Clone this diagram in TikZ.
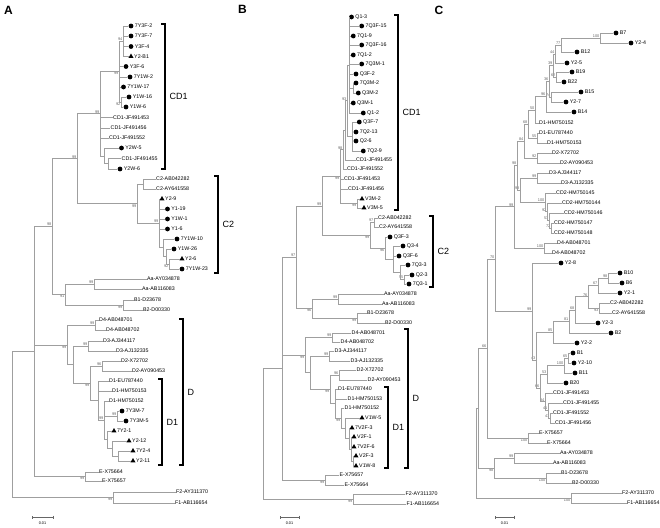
\documentclass[tikz,border=0pt]{standalone}
\usepackage{fontspec}
\setmainfont{Liberation Sans}
\usetikzlibrary{arrows.meta,positioning,calc,shapes.geometric}

% leaves, clades, bootstrap values, clade brackets
\newcommand\refseq[4]{\node[seq] (#1) at (#2,#3) {#4};}
\newcommand\sample[5]{\node[#4] (#1) at (#2,#3) {};\node[seq,right=0.6pt of #1] (#1-t) {#5};}
\newcommand\clade[4]{\path ($(#3)!.5!(#4)$) coordinate (#1-m);\coordinate (#1) at (#2,0 |- #1-m);}
\newcommand\kids[2]{\foreach \kid in {#2}{\draw[br] (#1) |- (\kid);}}
\newcommand\boot[3][bs]{\node[#1] (#2-b) at (#2) {#3};}
\newcommand\bracket[5]{\draw[brk] (#2-4,#3) -- (#2,#3) -- (#2,#4) -- (#2-4,#4);
  \node[clab] (#1) at (#2+4.5,{(#3+#4)/2}) {#5};}

\begin{document}
\begin{tikzpicture}[x=1pt,y=-1pt,
br/.style={draw=gray!75,line width=0.6pt},
seq/.style={anchor=west,inner sep=0.5pt,font=\fontsize{5.3}{6}\selectfont,text height=3.8pt,text depth=0pt},
cir/.style={circle,fill=black,inner sep=0pt,minimum size=4.8pt},
tri/.style={regular polygon,regular polygon sides=3,fill=black,inner sep=0pt,minimum size=5.9pt},
bs/.style={anchor=south east,inner sep=0.4pt,font=\fontsize{3.9}{4}\selectfont,text=gray!80!black},
bsb/.style={bs,anchor=north east},
brk/.style={draw=black,line width=1.1pt},
clab/.style={anchor=west,inner sep=0pt,font=\fontsize{9}{10}\selectfont},
panel/.style={font=\bfseries\fontsize{12}{12}\selectfont,inner sep=0pt},
sbar/.style={draw=gray!80!black,line width=0.5pt,{Bar[width=3pt]}-{Bar[width=3pt]}},
sblab/.style={font=\fontsize{3.8}{4}\selectfont,inner sep=0pt}]
\useasboundingbox (0,0) rectangle (660,527);

% ---------------- A
\node[panel] (pA) at (8.5,10.5) {A};
\sample{a01}{131}{26}{cir}{7Y3F-2}
\sample{a02}{131}{36}{cir}{7Y3F-7}
\sample{a03}{131}{46.5}{cir}{Y3F-4}
\sample{a04}{131}{56.5}{tri}{Y2-B1}
\sample{a05}{126}{66.5}{cir}{Y3F-6}
\sample{a06}{130}{77}{cir}{7Y1W-2}
\sample{a07}{123.5}{87}{cir}{7Y1W-17}
\sample{a08}{129}{97}{cir}{Y1W-16}
\sample{a09}{126}{107}{cir}{Y1W-6}
\refseq{a10}{112.5}{117.5}{CD1-JF491453}
\refseq{a11}{110}{128}{CD1-JF491456}
\refseq{a12}{108.5}{138}{CD1-JF491552}
\sample{a13}{121.5}{148}{cir}{Y2W-5}
\refseq{a14}{121}{158.5}{CD1-JF491455}
\sample{a15}{120}{169}{cir}{Y2W-6}
\refseq{a16}{155.5}{179}{C2-AB042282}
\refseq{a17}{155.5}{189}{C2-AY641558}
\sample{a18}{162}{199}{tri}{Y2-9}
\sample{a19}{167.5}{209}{cir}{Y1-19}
\sample{a20}{167.5}{219}{cir}{Y1W-1}
\sample{a21}{167.5}{229}{cir}{Y1-6}
\sample{a22}{177}{239}{cir}{7Y1W-10}
\sample{a23}{174}{249}{cir}{Y1W-26}
\sample{a24}{182}{259}{tri}{Y2-6}
\sample{a25}{182}{269}{cir}{7Y1W-23}
\refseq{a26}{146.5}{279}{Aa-AY034878}
\refseq{a27}{141.5}{289}{Aa-AB116083}
\refseq{a28}{133.5}{300}{B1-D23678}
\refseq{a29}{142.5}{310}{B2-D00330}
\refseq{a30}{98.5}{320}{D4-AB048701}
\refseq{a31}{105.5}{330}{D4-AB048702}
\refseq{a32}{102.5}{341}{D3-AJ344117}
\refseq{a33}{115.5}{351}{D3-AJ132335}
\refseq{a34}{120.5}{361}{D2-X72702}
\refseq{a35}{131.5}{371}{D2-AY090453}
\refseq{a36}{108.5}{381}{D1-EU787440}
\refseq{a37}{111.5}{391}{D1-HM750153}
\refseq{a38}{108.5}{401}{D1-HM750152}
\sample{a39}{122}{411}{cir}{7Y3M-7}
\sample{a40}{126}{421}{cir}{7Y3M-5}
\sample{a41}{114}{431}{tri}{7Y2-1}
\sample{a42}{129}{441}{tri}{Y2-12}
\sample{a43}{133}{451}{tri}{7Y2-4}
\sample{a44}{133}{461}{tri}{Y2-11}
\refseq{a45}{98.5}{472}{E-X75664}
\refseq{a46}{101.5}{481}{E-X75657}
\refseq{a47}{175.5}{492}{F2-AY311370}
\refseq{a48}{174.5}{503}{F1-AB116654}

\clade{an1}{123}{a01}{a04} \kids{an1}{a01,a02,a03,a04} \boot{an1}{94}
\clade{an3}{121}{a08}{a09} \kids{an3}{a08,a09} \boot[bsb]{an3}{92}
\clade{an2}{119}{an1}{an3} \kids{an2}{an1,a05,a06,a07,an3} \boot[bsb]{an2}{99}
\clade{an4}{108}{a14}{a15} \kids{an4}{a14,a15}
\clade{an5}{104}{a13}{an4} \kids{an5}{a13,an4}
\clade{an6}{100}{an2}{an5} \kids{an6}{an2,a10,a11,a12,an5} \boot{an6}{99}
\clade{ac1}{143}{a16}{a17} \kids{ac1}{a16,a17}
\clade{ac6}{169}{a24}{a25} \kids{ac6}{a24,a25} \boot[bsb]{ac6}{92}
\clade{ac5}{166}{a23}{ac6} \kids{ac5}{a23,ac6}
\clade{ac4}{163}{a22}{ac5} \kids{ac4}{a22,ac5}
\clade{ac2}{159}{a18}{ac4} \kids{ac2}{a18,a19,a20,a21,ac4} \boot{ac2}{99}
\clade{ac3}{137}{ac1}{ac2} \kids{ac3}{ac1,ac2} \boot[bsb]{ac3}{99}
\clade{an7}{77}{an6}{ac3} \kids{an7}{an6,ac3} \boot{an7}{99}
\clade{aaa}{94}{a26}{a27} \kids{aaa}{a26,a27} \boot{aaa}{99}
\clade{abb}{123}{a28}{a29} \kids{abb}{a28,a29} \boot[bsb]{abb}{99}
\clade{aab}{65}{aaa}{abb} \kids{aab}{aaa,abb} \boot[bsb]{aab}{91}
\clade{an8}{52}{an7}{aab} \kids{an8}{an7,aab} \boot{an8}{98}
\clade{ad4}{95}{a30}{a31} \kids{ad4}{a30,a31} \boot{ad4}{99}
\clade{ad3}{88}{a32}{a33} \kids{ad3}{a32,a33} \boot{ad3}{99}
\clade{ad2}{102}{a34}{a35} \kids{ad2}{a34,a35} \boot{ad2}{96}
\clade{adm}{117}{a39}{a40} \kids{adm}{a39,a40} \boot{adm}{99}
\clade{ade}{118}{a43}{a44} \kids{ade}{a43,a44}
\clade{add}{112}{a42}{ade} \kids{add}{a42,ade}
\clade{adc}{107}{a41}{add} \kids{adc}{a41,add}
\clade{adb}{104}{a38}{adc} \kids{adb}{a38,adm,adc} \boot{adb}{99}
\clade{ad1}{98}{a36}{adb} \kids{ad1}{a36,a37,adb}
\clade{ad12}{90}{ad2}{ad1} \kids{ad12}{ad2,ad1} \boot[bsb]{ad12}{99}
\clade{ad123}{73}{ad3}{ad12} \kids{ad123}{ad3,ad12}
\clade{adall}{67}{ad4}{ad123} \kids{adall}{ad4,ad123} \boot[bsb]{adall}{99}
\clade{aee}{85}{a45}{a46} \kids{aee}{a45,a46} \boot[bsb]{aee}{99}
\clade{an9}{34}{an8}{aee} \kids{an9}{an8,adall,aee}
\clade{aff}{113}{a47}{a48} \kids{aff}{a47,a48} \boot[bsb]{aff}{99}
\clade{art}{12}{an9}{aff} \kids{art}{an9,aff}

\bracket{aCD1}{165}{24}{169}{CD1}
\bracket{aC2}{218}{176}{273}{C2}
\bracket{aD}{183}{319}{465}{D}
\bracket{aD1}{162}{379}{465}{D1}
\coordinate (asa) at (32,517); \coordinate (asb) at (53,517);
\draw[sbar] (asa) -- (asb);
\node[sblab] (asl) at (42.5,523) {0.01};

% ---------------- B
\node[panel] (pB) at (242.5,9.5) {B};
\sample{b01}{351.5}{17}{cir}{Q1-3}
\sample{b02}{361.7}{26}{cir}{7Q3F-15}
\sample{b03}{353.3}{36}{cir}{7Q1-9}
\sample{b04}{361.7}{45}{cir}{7Q3F-16}
\sample{b05}{353.3}{55}{cir}{7Q1-2}
\sample{b06}{361.7}{64}{cir}{7Q3M-1}
\sample{b07}{356}{74}{cir}{Q3F-2}
\sample{b08}{356}{83}{cir}{7Q3M-2}
\sample{b09}{358.3}{93}{cir}{Q3M-2}
\sample{b10}{353.3}{103}{cir}{Q3M-1}
\sample{b11}{363.3}{113}{cir}{Q1-2}
\sample{b12}{359.3}{122}{cir}{Q3F-7}
\sample{b13}{356}{132}{cir}{7Q2-13}
\sample{b14}{356}{141}{cir}{Q2-6}
\sample{b15}{363.3}{151}{cir}{7Q2-9}
\refseq{b16}{355.5}{160}{CD1-JF491455}
\refseq{b17}{346.5}{169}{CD1-JF491552}
\refseq{b18}{343.5}{179}{CD1-JF491453}
\refseq{b19}{347.5}{189}{CD1-JF491456}
\sample{b20}{362}{199}{tri}{V3M-2}
\sample{b21}{364}{208}{tri}{V3M-5}
\refseq{b22}{377.5}{218}{C2-AB042282}
\refseq{b23}{378.5}{227}{C2-AY641558}
\sample{b24}{390}{237}{cir}{Q3F-3}
\sample{b25}{403}{246}{cir}{Q3-4}
\sample{b26}{399}{256}{cir}{Q3F-6}
\sample{b27}{408}{265}{cir}{7Q3-3}
\sample{b28}{412}{275}{cir}{Q2-3}
\sample{b29}{409}{284}{cir}{7Q3-1}
\refseq{b30}{383.5}{294}{Aa-AY034878}
\refseq{b31}{381.5}{304}{Aa-AB116083}
\refseq{b32}{366.5}{313}{B1-D23678}
\refseq{b33}{384.5}{323}{B2-D00330}
\refseq{b34}{351}{333}{D4-AB048701}
\refseq{b35}{340}{342}{D4-AB048702}
\refseq{b36}{334}{351}{D3-AJ344117}
\refseq{b37}{350}{361}{D3-AJ132335}
\refseq{b38}{356}{370}{D2-X72702}
\refseq{b39}{367}{380}{D2-AY090453}
\refseq{b40}{337.5}{389}{D1-EU787440}
\refseq{b41}{347}{399}{D1-HM750153}
\refseq{b42}{344}{408}{D1-HM750152}
\sample{b43}{362}{418}{tri}{V1W-5}
\sample{b44}{352}{428}{tri}{7V2F-3}
\sample{b45}{354}{437}{tri}{V2F-1}
\sample{b46}{354}{447}{tri}{7V2F-6}
\sample{b47}{356}{456}{tri}{V2F-3}
\sample{b48}{356}{466}{tri}{V1W-8}
\refseq{b49}{339}{475}{E-X75657}
\refseq{b50}{344}{485}{E-X75664}
\refseq{b51}{405}{494}{F2-AY311370}
\refseq{b52}{406}{504}{F1-AB116654}

\clade{bq2}{353.5}{b08}{b09} \kids{bq2}{b08,b09}
\clade{bq1}{349.5}{b01}{b11} \kids{bq1}{b01,b02,b03,b04,b05,b06,b07,bq2,b10,b11}
\clade{bq3}{352}{b12}{b15} \kids{bq3}{b12,b13,b14,b15}
\clade{bq0}{347}{bq1}{bq3} \kids{bq0}{bq1,bq3} \boot{bq0}{93}
\clade{bc1}{345}{bq0}{b16} \kids{bc1}{bq0,b16}
\clade{bc2}{343}{bc1}{b17} \kids{bc2}{bc1,b17} \boot{bc2}{98}
\clade{bv}{357}{b20}{b21} \kids{bv}{b20,b21} \boot[bsb]{bv}{99}
\clade{bc3}{340}{bc2}{bv} \kids{bc3}{bc2,b18,b19,bv} \boot[bsb]{bc3}{99}
\clade{bcr}{374}{b22}{b23} \kids{bcr}{b22,b23} \boot{bcr}{97}
\clade{bq4}{404}{b28}{b29} \kids{bq4}{b28,b29} \boot{bq4}{55}
\clade{bq5}{400}{b27}{bq4} \kids{bq5}{b27,bq4}
\clade{bq6}{393}{b25}{bq5} \kids{bq6}{b25,b26,bq5}
\clade{bqc}{385}{b24}{bq6} \kids{bqc}{b24,bq6} \boot[bsb]{bqc}{96}
\clade{bC2}{370}{bcr}{bqc} \kids{bC2}{bcr,bqc} \boot[bsb]{bC2}{99}
\clade{bcd}{322}{bc3}{bC2} \kids{bcd}{bc3,bC2} \boot{bcd}{99}
\clade{baa}{338}{b30}{b31} \kids{baa}{b30,b31} \boot{baa}{99}
\clade{bbb}{357}{b32}{b33} \kids{bbb}{b32,b33} \boot[bsb]{bbb}{99}
\clade{bAB}{312}{baa}{bbb} \kids{bAB}{baa,bbb} \boot[bsb]{bAB}{96}
\clade{b97}{296}{bcd}{bAB} \kids{b97}{bcd,bAB} \boot{b97}{97}
\clade{bd4}{332}{b34}{b35} \kids{bd4}{b34,b35} \boot{bd4}{99}
\clade{bd3}{329}{b36}{b37} \kids{bd3}{b36,b37} \boot{bd3}{99}
\clade{bd2}{339}{b38}{b39} \kids{bd2}{b38,b39} \boot{bd2}{96}
\clade{bv3}{353}{b47}{b48} \kids{bv3}{b47,b48}
\clade{bv2}{351}{b45}{bv3} \kids{bv2}{b45,b46,bv3}
\clade{bv1}{349}{b44}{bv2} \kids{bv1}{b44,bv2}
\clade{bv0}{345}{b43}{bv1} \kids{bv0}{b43,bv1}
\clade{bD1b}{341}{b42}{bv0} \kids{bD1b}{b42,bv0} \boot[bsb]{bD1b}{99}
\clade{bD1}{335}{b40}{bD1b} \kids{bD1}{b40,b41,bD1b}
\clade{bD12}{330}{bd2}{bD1} \kids{bD12}{bd2,bD1} \boot[bsb]{bD12}{99}
\clade{bd23}{310}{bd3}{bD12} \kids{bd23}{bd3,bD12}
\clade{bDall}{305}{bd4}{bd23} \kids{bDall}{bd4,bd23} \boot[bsb]{bDall}{99}
\clade{bE}{325}{b49}{b50} \kids{bE}{b49,b50} \boot[bsb]{bE}{99}
\clade{bDE}{282}{b97}{bE} \kids{bDE}{b97,bDall,bE}
\clade{bF}{353}{b51}{b52} \kids{bF}{b51,b52} \boot[bsb]{bF}{99}
\clade{brt}{263}{bDE}{bF} \kids{brt}{bDE,bF}

\bracket{bCD1}{398}{15}{210}{CD1}
\bracket{bC2}{433}{216}{287}{C2}
\bracket{bD}{408}{329}{468}{D}
\bracket{bD1}{388}{387}{468}{D1}
\coordinate (bsa) at (280,517); \coordinate (bsb) at (299,517);
\draw[sbar] (bsa) -- (bsb);
\node[sblab] (bsl) at (289.5,523) {0.01};

% ---------------- C
\node[panel] (pC) at (439,10) {C};
\sample{c01}{616}{33}{cir}{B7}
\sample{c02}{631}{43}{cir}{Y2-4}
\sample{c03}{577}{52}{cir}{B12}
\sample{c04}{567}{63}{cir}{Y2-5}
\sample{c05}{572}{72}{cir}{B19}
\sample{c06}{564}{82}{cir}{B22}
\sample{c07}{581}{92}{cir}{B15}
\sample{c08}{566}{102}{cir}{Y2-7}
\sample{c09}{574}{112}{cir}{B14}
\refseq{c10}{538.5}{123}{D1-HM750152}
\refseq{c11}{538.5}{133}{D1-EU787440}
\refseq{c12}{546.5}{143}{D1-HM750153}
\refseq{c13}{551.5}{153}{D2-X72702}
\refseq{c14}{559.5}{163}{D2-AY090453}
\refseq{c15}{548.5}{173}{D3-AJ344117}
\refseq{c16}{560.5}{183}{D3-AJ132335}
\refseq{c17}{555.5}{193}{CD2-HM750145}
\refseq{c18}{561.5}{203}{CD2-HM750144}
\refseq{c19}{563.5}{213}{CD2-HM750146}
\refseq{c20}{553.5}{223}{CD2-HM750147}
\refseq{c21}{553.5}{233}{CD2-HM750148}
\refseq{c22}{556.5}{243}{D4-AB048701}
\refseq{c23}{551.5}{253}{D4-AB048702}
\sample{c24}{561}{263}{cir}{Y2-8}
\sample{c25}{620}{273}{cir}{B10}
\sample{c26}{622}{283}{cir}{B6}
\sample{c27}{620}{293}{cir}{Y2-1}
\refseq{c28}{609.5}{303}{C2-AB042282}
\refseq{c29}{611.5}{313}{C2-AY641558}
\sample{c30}{598}{323}{cir}{Y2-3}
\sample{c31}{611}{333}{cir}{B2}
\sample{c32}{577}{343}{cir}{Y2-2}
\sample{c33}{573}{353}{cir}{B1}
\sample{c34}{574}{363}{cir}{Y2-10}
\sample{c35}{575}{373}{cir}{B11}
\sample{c36}{566}{383}{cir}{B20}
\refseq{c37}{552.5}{393}{CD1-JF491453}
\refseq{c38}{562.5}{403}{CD1-JF491455}
\refseq{c39}{552.5}{413}{CD1-JF491552}
\refseq{c40}{554.5}{423}{CD1-JF491456}
\refseq{c41}{538.5}{433}{E-X75657}
\refseq{c42}{546.5}{443}{E-X75664}
\refseq{c43}{559.5}{453}{Aa-AY034878}
\refseq{c44}{552.5}{463}{Aa-AB116083}
\refseq{c45}{560.5}{473}{B1-D23678}
\refseq{c46}{571.5}{483}{B2-D00330}
\refseq{c47}{621.5}{493}{F2-AY311370}
\refseq{c48}{626.5}{503}{F1-AB116654}

\clade{cc100}{600}{c01}{c02} \kids{cc100}{c01,c02} \boot{cc100}{100}
\clade{cc77}{561}{cc100}{c03} \kids{cc77}{cc100,c03} \boot{cc77}{77}
\clade{cc44}{555}{cc77}{c04} \kids{cc44}{cc77,c04} \boot{cc44}{44}
\clade{cc62}{556}{c05}{c06} \kids{cc62}{c05,c06} \boot{cc62}{62}
\clade{cc39}{553}{cc44}{cc62} \kids{cc39}{cc44,cc62} \boot{cc39}{39}
\clade{cc74}{551}{c07}{c08} \kids{cc74}{c07,c08} \boot{cc74}{74}
\clade{cc36}{549}{cc39}{cc74} \kids{cc36}{cc39,cc74} \boot{cc36}{36}
\clade{cc96}{546}{cc36}{c09} \kids{cc96}{cc36,c09} \boot{cc96}{96}
\clade{cc50}{535}{cc96}{c10} \kids{cc50}{cc96,c10} \boot{cc50}{50}
\clade{cc55}{537}{c11}{c12} \kids{cc55}{c11,c12} \boot{cc55}{55}
\clade{cc68}{528}{cc50}{cc55} \kids{cc68}{cc50,cc55} \boot{cc68}{68}
\clade{cc92}{537}{c13}{c14} \kids{cc92}{c13,c14} \boot{cc92}{92}
\clade{cc84}{524}{cc68}{cc92} \kids{cc84}{cc68,cc92} \boot{cc84}{84}
\clade{cd3}{537}{c15}{c16} \kids{cd3}{c15,c16} \boot{cd3}{99}
\clade{ccd72}{551}{c20}{c21} \kids{ccd72}{c20,c21} \boot{ccd72}{72}
\clade{ccd53}{549}{c19}{ccd72} \kids{ccd53}{c19,ccd72} \boot{ccd53}{53}
\clade{ccd92}{547}{c18}{ccd53} \kids{ccd92}{c18,ccd53} \boot{ccd92}{92}
\clade{ccd100}{545}{c17}{ccd92} \kids{ccd100}{c17,ccd92} \boot{ccd100}{100}
\clade{cc98b}{520}{cd3}{ccd100} \kids{cc98b}{cd3,ccd100} \boot{cc98b}{98}
\clade{cc98a}{517}{cc84}{cc98b} \kids{cc98a}{cc84,cc98b} \boot{cc98a}{98}
\clade{cd4}{544}{c22}{c23} \kids{cd4}{c22,c23} \boot{cd4}{100}
\clade{cc99d}{514}{cc98a}{cd4} \kids{cc99d}{cc98a,cd4} \boot{cc99d}{99}
\clade{ccb98}{608}{c25}{c26} \kids{ccb98}{c25,c26} \boot{ccb98}{98}
\clade{cc67}{598}{ccb98}{c27} \kids{cc67}{ccb98,c27} \boot{cc67}{67}
\clade{ccc2}{599}{c28}{c29} \kids{ccc2}{c28,c29} \boot[bsb]{ccc2}{93}
\clade{cc76}{588}{cc67}{ccc2} \kids{cc76}{cc67,ccc2} \boot{cc76}{76}
\clade{cc68b}{575}{cc76}{c30} \kids{cc68b}{cc76,c30} \boot{cc68b}{68}
\clade{cc81}{569}{cc68b}{c31} \kids{cc81}{cc68b,c31} \boot{cc81}{81}
\clade{cc85}{553}{cc81}{c32} \kids{cc85}{cc81,c32} \boot{cc85}{85}
\clade{cc65}{568}{c33}{c34} \kids{cc65}{c33,c34} \boot{cc65}{65}
\clade{cc100b}{564}{cc65}{c35} \kids{cc100b}{cc65,c35} \boot{cc100b}{100}
\clade{cc53}{547}{cc100b}{c36} \kids{cc53}{cc100b,c36} \boot{cc53}{53}
\clade{cc41b}{550}{c39}{c40} \kids{cc41b}{c39,c40} \boot{cc41b}{41}
\clade{cc41a}{548}{c38}{cc41b} \kids{cc41a}{c38,cc41b} \boot{cc41a}{41}
\clade{cc84b}{545}{c37}{cc41a} \kids{cc84b}{c37,cc41a} \boot{cc84b}{84}
\clade{cc66b}{540}{cc53}{cc84b} \kids{cc66b}{cc53,cc84b} \boot{cc66b}{66}
\clade{cc43}{536}{cc85}{cc66b} \kids{cc43}{cc85,cc66b} \boot{cc43}{43}
\clade{cc99c}{532}{c24}{cc43} \kids{cc99c}{c24,cc43} \boot{cc99c}{99}
\clade{cc70}{495}{cc99d}{cc99c} \kids{cc70}{cc99d,cc99c} \boot{cc70}{70}
\clade{cce}{528}{c41}{c42} \kids{cce}{c41,c42} \boot[bsb]{cce}{100}
\clade{cc66}{487}{cc70}{cce} \kids{cc66}{cc70,cce} \boot{cc66}{66}
\clade{cca}{514}{c43}{c44} \kids{cca}{c43,c44} \boot{cca}{99}
\clade{ccb}{546}{c45}{c46} \kids{ccb}{c45,c46} \boot[bsb]{ccb}{100}
\clade{ccab}{494}{cca}{ccb} \kids{ccab}{cca,ccb} \boot[bsb]{ccab}{98}
\clade{ccr1}{478}{cc66}{ccab} \kids{ccr1}{cc66,ccab}
\clade{ccf}{571}{c47}{c48} \kids{ccf}{c47,c48} \boot[bsb]{ccf}{100}
\clade{crt}{476}{ccr1}{ccf} \kids{crt}{ccr1,ccf}

\coordinate (csa) at (495,517); \coordinate (csb) at (514,517);
\draw[sbar] (csa) -- (csb);
\node[sblab] (csl) at (504.5,523) {0.01};
\end{tikzpicture}
\end{document}
